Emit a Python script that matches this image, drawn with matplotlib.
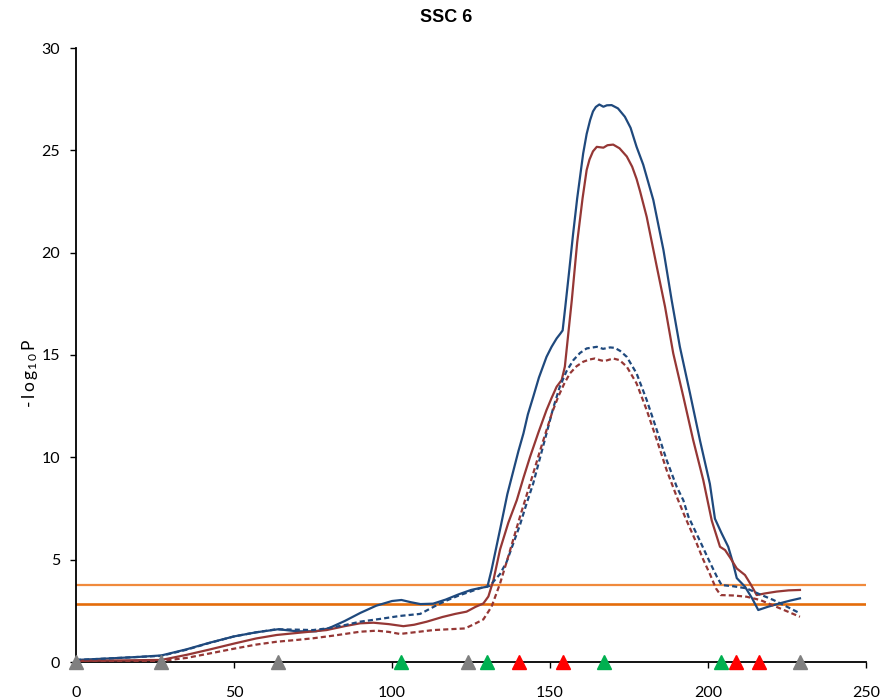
import numpy as np
import matplotlib
matplotlib.use("Agg")
import matplotlib.pyplot as plt

# -log10P profiles along SSC 6 (cM)
blue_solid_x = [0, 10, 20, 27, 35, 42, 50, 57, 64, 70, 76, 80, 85, 90, 95, 100, 103, 106, 109, 113,
                117, 121, 125, 128, 130.2, 131.5, 133, 134.5, 136.5, 138.5, 140, 141.6, 143, 144.7,
                146.5, 148.9, 150.5, 152.1, 153.3, 154, 154.8, 156, 157.3, 158.6, 160.5, 161.6,
                162.7, 163.6, 164.5, 165.6, 166.9, 168, 169.5, 171.5, 173.7, 175.5, 177.4, 179.5,
                182.7, 185.9, 188.5, 191.1, 194.3, 197.5, 200.6, 202.2, 204.3, 206.4, 207.8, 209.1,
                211.7, 214, 215.9, 219, 222.8, 226, 229.1]
blue_solid_y = [0.10, 0.17, 0.25, 0.32, 0.62, 0.93, 1.25, 1.45, 1.60, 1.50, 1.50, 1.65, 2.00, 2.40,
                2.75, 2.98, 3.03, 2.92, 2.83, 2.85, 3.05, 3.30, 3.52, 3.62, 3.68, 4.50, 5.60, 6.70,
                8.20, 9.40, 10.30, 11.17, 12.10, 12.96, 13.90, 14.91, 15.40, 15.81, 16.05, 16.20,
                17.30, 19.00, 20.90, 22.65, 24.85, 25.80, 26.48, 26.90, 27.12, 27.24, 27.13, 27.20,
                27.21, 27.05, 26.64, 26.10, 25.17, 24.30, 22.57, 20.13, 17.68, 15.40, 13.13, 10.80,
                8.70, 7.00, 6.29, 5.63, 4.90, 4.10, 3.68, 3.10, 2.54, 2.70, 2.87, 3.00, 3.11]

red_solid_x = [0, 10, 20, 27, 35, 42, 50, 57, 63.5, 70, 79.3, 85, 89.9, 94.1, 99, 103.6, 107, 111,
               116, 120, 123.6, 126.5, 128.9, 130.5, 132.1, 134.2, 136.8, 139.5, 141.6, 143.7, 146.3,
               148.9, 150.5, 152.1, 153.7, 154.7, 155.8, 156.9, 158.6, 160.3, 161.6, 162.5, 163.6,
               164.8, 166.9, 168.2, 170, 172, 174.3, 176, 177.4, 178.5, 180.6, 183.8, 186.4, 189,
               192.2, 195.3, 198.5, 201.2, 203.8, 205.4, 207, 209.1, 211.7, 213.5, 215.4, 218, 221.7,
               225.5, 229.1]
red_solid_y = [0.05, 0.07, 0.09, 0.10, 0.35, 0.60, 0.90, 1.15, 1.32, 1.42, 1.56, 1.75, 1.89, 1.92,
               1.85, 1.75, 1.82, 1.97, 2.20, 2.35, 2.46, 2.70, 2.86, 3.20, 4.00, 5.50, 6.80, 7.91,
               9.00, 10.03, 11.20, 12.31, 12.90, 13.45, 13.78, 14.43, 16.06, 17.68, 20.50, 22.65,
               24.04, 24.55, 24.95, 25.17, 25.13, 25.25, 25.28, 25.10, 24.70, 24.20, 23.60, 23.00,
               21.75, 19.31, 17.36, 15.08, 12.96, 10.85, 8.89, 6.90, 5.63, 5.47, 5.10, 4.57, 4.25,
               3.80, 3.27, 3.35, 3.44, 3.50, 3.52]

blue_dash_x = [0, 10, 20, 27, 35, 42, 50, 57, 63.5, 70, 75, 79.3, 85, 89.9, 96, 102.5, 108.9, 112,
               115.2, 118, 121.5, 125, 127.8, 131, 132.5, 134.2, 136.3, 138.4, 140.5, 142.5, 144.7,
               146.8, 148.9, 151, 153.1, 155.2, 157.4, 159.5, 161.6, 164.8, 166.8, 169, 170.5,
               172.2, 174.3, 177.4, 180.6, 183.8, 186.9, 190.1, 192.2, 193.8, 197.5, 200.5, 202.8,
               204.3, 208, 212.2, 216.5, 220.7, 225, 229.1]
blue_dash_y = [0.10, 0.17, 0.25, 0.30, 0.60, 0.92, 1.25, 1.45, 1.60, 1.58, 1.56, 1.64, 1.80, 1.97,
               2.10, 2.25, 2.35, 2.60, 2.86, 3.05, 3.27, 3.45, 3.60, 3.72, 4.00, 4.30, 4.90, 5.80,
               6.70, 7.70, 8.73, 9.95, 11.17, 12.40, 13.45, 14.20, 14.75, 15.10, 15.32, 15.40, 15.30,
               15.37, 15.35, 15.20, 14.91, 14.10, 12.80, 11.33, 9.87, 8.56, 7.90, 7.10, 5.90, 4.90,
               4.17, 3.76, 3.70, 3.60, 3.30, 3.03, 2.70, 2.38]

red_dash_x = [0, 10, 20, 27, 35, 42.4, 50, 57, 63.5, 70, 75.1, 82, 89.9, 95.2, 99, 102.5, 107, 113.1,
              118, 123.1, 126, 128.9, 131.5, 134.2, 136.3, 138.4, 140.5, 142.6, 144.7, 146.8, 148.9,
              150.7, 152.6, 154.5, 156.3, 158.4, 160.5, 162.5, 164.2, 165.8, 167.2, 170, 172, 174.3,
              177.4, 180.6, 183.8, 186.9, 190.1, 192.7, 196.4, 198.5, 200.6, 202.5, 204, 208, 212.2,
              216.5, 222.8, 229.1]
red_dash_y = [0.02, 0.03, 0.04, 0.05, 0.20, 0.42, 0.65, 0.85, 0.99, 1.08, 1.16, 1.30, 1.48, 1.53,
              1.47, 1.37, 1.45, 1.56, 1.60, 1.64, 1.85, 2.08, 2.70, 3.84, 4.90, 6.00, 7.10, 8.15,
              9.22, 10.30, 11.33, 12.20, 12.96, 13.60, 14.10, 14.45, 14.67, 14.78, 14.83, 14.75,
              14.70, 14.83, 14.75, 14.43, 13.61, 12.31, 10.85, 9.38, 8.08, 7.10, 5.80, 5.00, 4.30,
              3.60, 3.27, 3.25, 3.19, 3.03, 2.62, 2.21]

thresholds = [3.76, 2.83]

gray_pos = [0, 27, 63.9, 124, 229]
green_pos = [102.7, 130.2, 167.1, 204.1]
red_pos = [140.1, 154.1, 209, 216.2]

plt.rcParams["font.family"] = ["Lato", "DejaVu Sans"]
plt.rcParams["mathtext.default"] = "regular"

fig = plt.figure(figsize=(8.8, 6.98), dpi=100)
ax = fig.add_axes([76 / 880, 1 - 662 / 698, 790 / 880, 614 / 698])

blue = "#1F497D"
red = "#953735"

ax.axhline(thresholds[0], color="#F08A3C", lw=1.6, zorder=1)
ax.axhline(thresholds[1], color="#E46C0A", lw=1.9, zorder=1)

ax.plot(blue_solid_x, blue_solid_y, color=blue, lw=1.6, zorder=3)
ax.plot(red_solid_x, red_solid_y, color=red, lw=1.6, zorder=3)
ax.plot(blue_dash_x, blue_dash_y, color=blue, lw=1.6, dashes=(2.3, 1.4), zorder=3)
ax.plot(red_dash_x, red_dash_y, color=red, lw=1.6, dashes=(2.3, 1.4), zorder=3)

for pos, c in [(gray_pos, "#808080"), (green_pos, "#00B050"), (red_pos, "#FF0000")]:
    ax.plot(pos, np.zeros(len(pos)), ls="none", marker="^", ms=9.5, color=c,
            mec=c, clip_on=False, zorder=5)

ax.set_xlim(0, 250)
ax.set_ylim(0, 30)
ax.set_xticks(np.arange(0, 251, 50))
ax.set_yticks(np.arange(0, 31, 5))
ax.spines["top"].set_visible(False)
ax.spines["right"].set_visible(False)
for s in ("left", "bottom"):
    ax.spines[s].set_linewidth(1.3)
ax.tick_params(axis="x", direction="out", length=4, width=1, pad=13, labelsize=11.5)
ax.tick_params(axis="y", direction="out", length=4.5, width=1, pad=7, labelsize=11.5)

fig.text(446 / 880, 1 - 17 / 698, "SSC 6", ha="center", va="center",
         fontsize=13, fontweight="bold", family=["Liberation Sans", "DejaVu Sans"])
fig.text(30 / 880, 1 - 373 / 698, r"-$\,l\,o\,g_{1\,0}\,P$", rotation=90,
         ha="center", va="center", fontsize=12.5)

fig.savefig("out.png", dpi=100)
